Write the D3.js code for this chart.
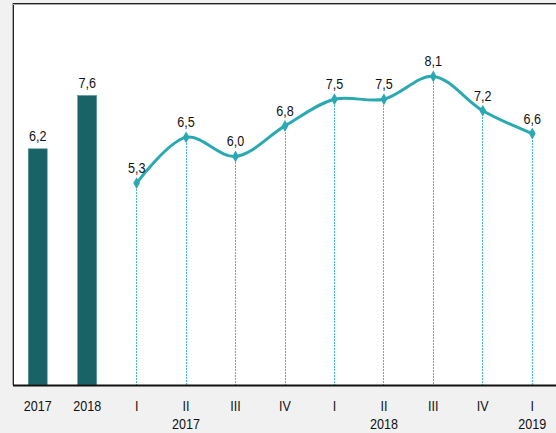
<!DOCTYPE html>
<html><head><meta charset="utf-8">
<script src="https://cdn.jsdelivr.net/npm/d3@7"></script>
<style>
html,body{margin:0;padding:0;background:#f1f1f1;}
svg{display:block;}
text{font-family:"Liberation Sans Narrow","Arial Narrow","Liberation Sans",Arial,sans-serif;font-size:15px;fill:#111;}
</style></head><body>
<svg id="c" width="556" height="433"></svg>
<script>
const barCategories = ["2017", "2018"];
const barValues = [6.2, 7.6];
const quarterCategories = ["I", "II", "III", "IV", "I", "II", "III", "IV", "I"];
const quarterYears = ["", "2017", "", "", "", "2018", "", "", "2019"];
const quarterValues = [5.3, 6.5, 6.0, 6.8, 7.5, 7.5, 8.1, 7.2, 6.6];
const fmt = v => d3.format(".1f")(v).replace(".", ",");

const svg = d3.select("#c");
const pLeft = 13, pTop = 3, pBottom = 385, pRight = 557;

const keys = d3.range(barCategories.length + quarterCategories.length);
const x = d3.scaleBand().domain(keys).range([pLeft, pRight]).padding(0);
const y = d3.scaleLinear().domain([0, 10]).range([pBottom, pBottom - 381]);

// plot area
svg.append("rect").attr("x", pLeft).attr("y", pTop).attr("width", pRight - pLeft + 10).attr("height", pBottom - pTop)
  .attr("fill", "#fff");
svg.append("line").attr("x1", pLeft - 0.5).attr("x2", pLeft - 0.5).attr("y1", pTop).attr("y2", pBottom).attr("stroke", "#aaa").attr("stroke-width", 1);
svg.append("line").attr("x1", pLeft + 0.5).attr("x2", pLeft + 0.5).attr("y1", pTop).attr("y2", pBottom).attr("stroke", "#222").attr("stroke-width", 1);
svg.append("line").attr("x1", pLeft).attr("x2", 560).attr("y1", pTop + 0.5).attr("y2", pTop + 0.5).attr("stroke", "#222").attr("stroke-width", 1);
svg.append("line").attr("x1", pLeft).attr("x2", 560).attr("y1", pTop + 1.5).attr("y2", pTop + 1.5).attr("stroke", "#aaa").attr("stroke-width", 1);

const cx = i => x(i) + x.bandwidth() / 2;

// bars
const barW = 19;
svg.selectAll("rect.bar").data(barValues).enter().append("rect").attr("class", "bar")
  .attr("x", (d, i) => cx(i) - barW / 2).attr("width", barW)
  .attr("y", d => y(d)).attr("height", d => y(0) - y(d))
  .attr("fill", "#196366").attr("stroke", "#5f9a9c").attr("stroke-width", 0.6);

const off = barCategories.length;
const pts = quarterValues.map((v, i) => [cx(i + off), y(v)]);

// drop lines
svg.selectAll("line.drop").data(pts).enter().append("line").attr("class", "drop")
  .attr("x1", d => Math.floor(d[0]) + 0.5).attr("x2", d => Math.floor(d[0]) + 0.5)
  .attr("y1", d => Math.round(d[1])).attr("y2", pBottom)
  .attr("stroke", "#48bcc4").attr("stroke-width", 1).attr("stroke-dasharray", "2,1")
  .attr("shape-rendering", "crispEdges");

// line
svg.append("path").datum(pts).attr("d", d3.line().curve(d3.curveCatmullRom.alpha(0.5)))
  .attr("fill", "none").attr("stroke", "#2aa9b2").attr("stroke-width", 3);

// markers
svg.selectAll("path.mk").data(pts).enter().append("path").attr("class", "mk")
  .attr("d", d3.symbol().type(d3.symbolDiamond).size(40))
  .attr("transform", d => `translate(${d[0]},${d[1]})`).attr("fill", "#2aa9b2");

// text helper: condensed look
function label(sel) {
  return sel.attr("text-anchor", "middle")
    .attr("transform", function() {
      const tx = +this.getAttribute("data-x"), ty = +this.getAttribute("data-y");
      return `translate(${tx},${ty}) scale(0.84,1)`;
    });
}

svg.selectAll("text.blab").data(barValues).enter().append("text").attr("class", "blab")
  .attr("data-x", (d, i) => cx(i)).attr("data-y", d => y(d) - 7.5).text(fmt).call(label);

svg.selectAll("text.qlab").data(quarterValues).enter().append("text").attr("class", "qlab")
  .attr("data-x", (d, i) => pts[i][0]).attr("data-y", (d, i) => pts[i][1] - 10).text(fmt).call(label);

// axis line
svg.append("line").attr("x1", pLeft).attr("x2", 560).attr("y1", pBottom + 0.5).attr("y2", pBottom + 0.5)
  .attr("stroke", "#111").attr("stroke-width", 2);

// axis labels
const axisLabels = barCategories.concat(quarterCategories);
svg.selectAll("text.xl").data(axisLabels).enter().append("text").attr("class", "xl")
  .attr("data-x", (d, i) => cx(i)).attr("data-y", 411).text(d => d).call(label);
svg.selectAll("text.yl").data(quarterYears).enter().append("text").attr("class", "yl")
  .attr("data-x", (d, i) => cx(i + off)).attr("data-y", 429).text(d => d).call(label);
</script>
</body></html>
